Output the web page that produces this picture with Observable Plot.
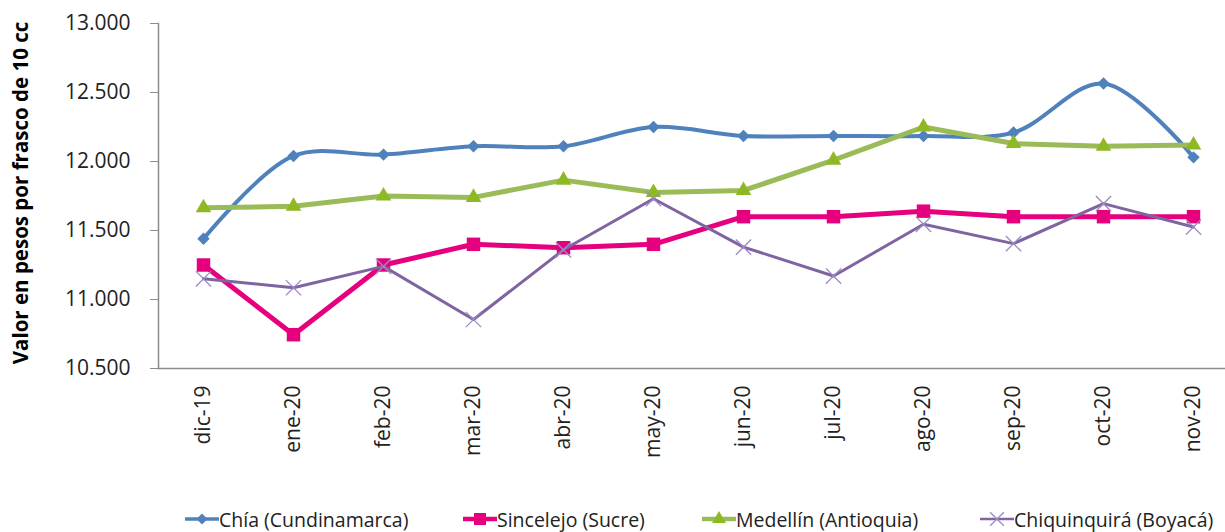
<!DOCTYPE html>
<html>
<head>
<meta charset="utf-8">
<script src="https://cdn.jsdelivr.net/npm/d3@7"></script>
<script src="https://cdn.jsdelivr.net/npm/@observablehq/plot@0.6"></script>
<style>
  body { margin: 0; background: #fff; font-family: "Open Sans", sans-serif; }
  #wrap { position: relative; width: 1225px; height: 532px; overflow: hidden; }
  #legend { position: absolute; top: 505px; left: 0; width: 1225px; height: 28px;
            font-size: 19.5px; color: #222; }
  .item { position: absolute; top: 0; height: 28px; display: flex; align-items: center; white-space: nowrap; }
</style>
</head>
<body>
<div id="wrap"><div id="chart"></div><div id="legend"></div></div>
<script>
const months = ["dic-19","ene-20","feb-20","mar-20","abr-20","may-20","jun-20","jul-20","ago-20","sep-20","oct-20","nov-20"];
const chia = [11440,12040,12050,12110,12110,12250,12185,12185,12185,12210,12565,12030];
const sincelejo = [11250,10745,11250,11400,11375,11400,11600,11600,11640,11600,11600,11600];
const medellin = [11665,11675,11750,11740,11865,11775,11790,12010,12250,12130,12110,12120];
const chiquinquira = [11150,11085,11240,10855,11360,11730,11380,11170,11545,11405,11695,11525];
const yTicks = [10500,11000,11500,12000,12500,13000];
const yTitle = "Valor en pesos por frasco de 10 cc";

const series = [
  {name: "Chía (Cundinamarca)", values: chia, line: "#4F81BD", mark: "#4F81BD", symbol: "diamond2", r: 5.6, width: 4, curve: "catmull-rom", markStroke: null},
  {name: "Sincelejo (Sucre)", values: sincelejo, line: "#E6007E", mark: "#E6007E", symbol: "square", r: 7.6, width: 5, curve: "linear", markStroke: null},
  {name: "Medellín (Antioquia)", values: medellin, line: "#9BBB59", mark: "#8DB924", symbol: "triangle", r: 5.8, width: 5, curve: "linear", markStroke: null},
  {name: "Chiquinquirá (Boyacá)", values: chiquinquira, line: "#8064A2", mark: null, symbol: "times", r: 7, width: 3, curve: "linear", markStroke: "#9C8AC4"}
];
// legend layout (left edge of each swatch, px)
const legendLeft = [185, 463, 702, 980];

const fmt = d => d3.format(",.0f")(d).replace(/,/g, ".");

const marks = [
  Plot.ruleY([10500], {stroke: "#8c8c8c", strokeWidth: 1.5}),
  Plot.frame({anchor: "left", stroke: "#8c8c8c", strokeWidth: 1.5}),
  Plot.axisY({ticks: yTicks, tickFormat: fmt, tickSize: 8, tickPadding: 20, stroke: "#8c8c8c", fill: "#222", fontSize: 21, label: null}),
  Plot.axisX({tickRotate: -90, tickSize: 0, tickPadding: 17, fill: "#222", fontSize: 21, label: null}),
  Plot.text([yTitle], {frameAnchor: "left", dx: -137, dy: -3, rotate: -90, textAnchor: "middle", fontSize: 20.5, fontWeight: "bold", fill: "#000"})
];

for (const s of series) {
  const rows = months.map((m, i) => ({month: m, value: s.values[i]}));
  marks.push(Plot.line(rows, {x: "month", y: "value", stroke: s.line, strokeWidth: s.width, curve: s.curve}));
  if (s.symbol === "times") {
    marks.push(Plot.dot(rows, {x: "month", y: "value", symbol: "times", r: s.r, stroke: s.markStroke, strokeWidth: 1.3}));
  } else {
    marks.push(Plot.dot(rows, {x: "month", y: "value", symbol: s.symbol, r: s.r, fill: s.mark, stroke: "none"}));
  }
}

const chart = Plot.plot({
  width: 1225,
  height: 495,
  marginLeft: 158,
  marginRight: 0,
  marginTop: 23,
  marginBottom: 127,
  style: {fontFamily: "Open Sans", background: "#fff", overflow: "visible"},
  x: {type: "point", domain: months, range: [203, 1193], padding: 0},
  y: {domain: [10500, 13000]},
  marks
});
document.getElementById("chart").appendChild(chart);

// Legend
const legend = document.getElementById("legend");
series.forEach((s, i) => {
  const item = document.createElement("div");
  item.className = "item";
  item.style.left = legendLeft[i] + "px";
  const sw = d3.create("svg").attr("width", 34).attr("height", 22);
  sw.append("line").attr("x1", 0).attr("x2", 34).attr("y1", 11).attr("y2", 11)
    .attr("stroke", s.line).attr("stroke-width", s.width - 0.5);
  const sym = {diamond2: d3.symbolDiamond2, square: d3.symbolSquare, triangle: d3.symbolTriangle, times: d3.symbolTimes}[s.symbol];
  const path = d3.symbol(sym, Math.PI * s.r * s.r * 0.8)();
  const p = sw.append("path").attr("d", path).attr("transform", "translate(17,11)");
  if (s.symbol === "times") p.attr("fill", "none").attr("stroke", s.markStroke).attr("stroke-width", 1.3);
  else p.attr("fill", s.mark);
  item.appendChild(sw.node());
  const t = document.createElement("span");
  t.textContent = s.name;
  item.appendChild(t);
  legend.appendChild(item);
});
</script>
</body>
</html>
